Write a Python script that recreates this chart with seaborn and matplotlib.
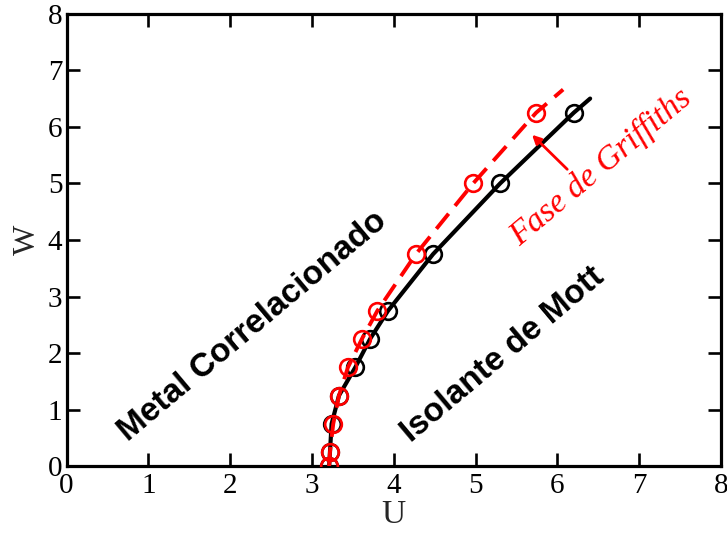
import matplotlib
matplotlib.use("Agg")
import matplotlib.pyplot as plt
import seaborn as sns
import pandas as pd

# Phase boundary data (U, W)
w_points = [0.0, 0.25, 0.75, 1.25, 1.75, 2.25, 2.75, 3.75, 5.0, 6.25]
u_mott = [3.21, 3.22, 3.24, 3.33, 3.53, 3.71, 3.93, 4.48, 5.30, 6.20]
u_griffiths = [3.21, 3.22, 3.26, 3.33, 3.44, 3.61, 3.80, 4.27, 4.97, 5.74]

# Fitted boundary curves (extend slightly past the last point)
u_mott_fit = u_mott + [6.40]
w_mott_fit = w_points + [6.50]
u_griff_fit = u_griffiths + [6.07]
w_griff_fit = w_points + [6.66]

xticks = [0, 1, 2, 3, 4, 5, 6, 7, 8]
yticks = [0, 1, 2, 3, 4, 5, 6, 7, 8]

sns.set_style("ticks")
plt.rcParams["font.family"] = ["Liberation Serif", "STIXGeneral", "DejaVu Serif"]

fig = plt.figure(figsize=(7.27, 5.35), dpi=100)
ax = fig.add_axes([0.0915, 0.1284, 0.9003, 0.846])

mott_line = pd.DataFrame({"U": u_mott_fit, "W": w_mott_fit})
griff_line = pd.DataFrame({"U": u_griff_fit, "W": w_griff_fit})
mott_pts = pd.DataFrame({"U": u_mott, "W": w_points})
griff_pts = pd.DataFrame({"U": u_griffiths, "W": w_points})

sns.lineplot(data=mott_line, x="U", y="W", sort=False, color="black",
             lw=3.0, ax=ax, zorder=2)
ax.plot(mott_pts["U"], mott_pts["W"], ls="none", marker="o", ms=12,
        mfc="none", mec="black", mew=1.9, zorder=3)
griff = sns.lineplot(data=griff_line, x="U", y="W", sort=False, color="red",
                     lw=2.8, ax=ax, zorder=4)
griff.lines[-1].set_dashes((5.0, 2.6))
ax.plot(griff_pts["U"], griff_pts["W"], ls="none", marker="o", ms=12,
        mfc="none", mec="red", mew=1.9, zorder=5)

ax.set_xlim(0, 8)
ax.set_ylim(0, 8)
ax.set_xticks(xticks)
ax.set_yticks(yticks)
ax.set_xticklabels([str(t) for t in xticks])
ax.set_yticklabels([str(t) for t in yticks])

for sp in ax.spines.values():
    sp.set_linewidth(2.3)
    sp.set_color("black")
    sp.set_visible(True)

ax.tick_params(axis="both", which="major", direction="in", length=9.5,
               width=1.9, labelsize=21, colors="black",
               top=True, right=True, pad=3)
ax.tick_params(axis="x", pad=5)

ax.set_xlabel("U", fontsize=24, labelpad=0)
ax.set_ylabel("W", fontsize=23, labelpad=4)

ax.text(2.27, 2.47, "Metal Correlacionado", rotation=40,
        rotation_mode="anchor", ha="center", va="center",
        family=["Liberation Sans", "DejaVu Sans"], fontweight="bold",
        fontsize=24, color="black")
ax.text(5.34, 1.98, "Isolante de Mott", rotation=40,
        rotation_mode="anchor", ha="center", va="center",
        family=["Liberation Sans", "DejaVu Sans"], fontweight="bold",
        fontsize=24, color="black")
ax.text(6.53, 5.28, "Fase de Griffiths", rotation=40,
        rotation_mode="anchor", ha="center", va="center",
        family=["Liberation Serif", "STIXGeneral", "DejaVu Serif"],
        style="italic", fontsize=24, color="red")

ax.annotate("", xy=(5.69, 5.86), xytext=(6.12, 5.25),
            arrowprops=dict(arrowstyle="-|>", color="red", lw=2,
                            mutation_scale=13, shrinkA=0, shrinkB=0))

fig.savefig("out.png", dpi=100)
